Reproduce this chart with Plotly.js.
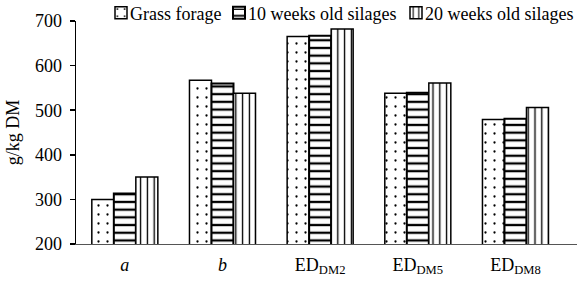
<!DOCTYPE html>
<html>
<head>
<meta charset="utf-8">
<script src="https://cdn.plot.ly/plotly-3.0.1.min.js"></script>
<style>
  html, body { margin: 0; padding: 0; background: #fff; }
  #chart { width: 587px; height: 296px; }
</style>
</head>
<body>
<div id="chart"></div>
<script>
// Degradability parameters (g/kg DM) for grass forage and its silages
const categories = ['<i>a</i>', '<i>b</i>', 'ED<sub>DM2</sub>', 'ED<sub>DM5</sub>', 'ED<sub>DM8</sub>'];
const seriesNames = ['Grass forage', '10 weeks old silages', '20 weeks old silages'];
const grassForage = [300, 567, 665, 538, 479];
const silage10wk  = [313, 560, 667, 539, 481];
const silage20wk  = [350, 538, 682, 561, 506];
const yTicks = [200, 300, 400, 500, 600, 700];

const W = 587, H = 296;
const serif = '"Liberation Serif", "Times New Roman", Times, serif';
const mkFont = () => ({ family: serif, size: 18, color: '#000' });

const patterns = [
  { shape: '.', size: 9, solidity: 0.05, fgcolor: '#000', bgcolor: '#fff', fillmode: 'replace' },
  { shape: '-', size: 7.7, solidity: 0.3, fgcolor: '#000', bgcolor: '#fff', fillmode: 'replace' },
  { shape: '|', size: 6.8, solidity: 0.2, fgcolor: '#000', bgcolor: '#fff', fillmode: 'replace' }
];
const values = [grassForage, silage10wk, silage20wk];
const legendIds = ['legend', 'legend2', 'legend3'];
// left edge (px) of each legend entry along the top row
const legendLeft = [101, 219, 396];

const traces = values.map((v, i) => ({
  type: 'bar',
  name: seriesNames[i],
  x: categories,
  y: v,
  legend: legendIds[i],
  marker: {
    color: '#fff',
    line: { color: '#000', width: i === 1 ? 2 : 1.5 },
    pattern: patterns[i]
  },
  hoverinfo: 'x+y+name'
}));

const layout = {
  width: W,
  height: H,
  margin: { l: 76, r: 10, t: 21, b: 52, autoexpand: false },
  paper_bgcolor: '#fff',
  plot_bgcolor: '#fff',
  font: mkFont(),
  barmode: 'group',
  bargap: 0.324,
  bargroupgap: 0,
  showlegend: true,
  xaxis: {
    range: [-0.5, 4.63],
    showline: true,
    linecolor: '#555',
    linewidth: 1,
    ticks: '',
    ticklabelstandoff: 4,
    showgrid: false,
    zeroline: false,
    tickfont: mkFont(),
    fixedrange: true
  },
  yaxis: {
    range: [200, 700],
    tickvals: yTicks,
    showline: true,
    linecolor: '#000',
    linewidth: 1.5,
    ticks: 'outside',
    ticklen: 5,
    tickwidth: 1.5,
    tickcolor: '#000',
    ticklabelstandoff: 4,
    showgrid: false,
    zeroline: false,
    tickfont: mkFont(),
    title: { text: 'g/kg DM', font: mkFont(), standoff: 10 }
  }
};

legendIds.forEach((id, i) => {
  layout[id] = {
    orientation: 'h',
    xref: 'container', yref: 'container',
    x: legendLeft[i] / W, xanchor: 'left',
    y: 1 - 13 / H, yanchor: 'middle',
    font: mkFont(),
    bgcolor: 'rgba(0,0,0,0)',
    itemwidth: 30
  };
});

const gd = document.getElementById('chart');

// pull legend labels closer to their swatches (legends may be drawn in several passes)
function tightenLegend() {
  gd.querySelectorAll('.infolayer g.traces text, .legendtext').forEach(t => {
    if (t.getAttribute('x') !== '29') t.setAttribute('x', '29');
  });
}

Plotly.newPlot(gd, traces, layout, { displayModeBar: false, staticPlot: true }).then(() => {
  tightenLegend();
  new MutationObserver(tightenLegend).observe(gd, { childList: true, subtree: true, attributes: true, attributeFilter: ['x'] });
  let n = 0;
  const timer = setInterval(() => { tightenLegend(); if (++n > 60) clearInterval(timer); }, 50);
});
</script>
</body>
</html>
